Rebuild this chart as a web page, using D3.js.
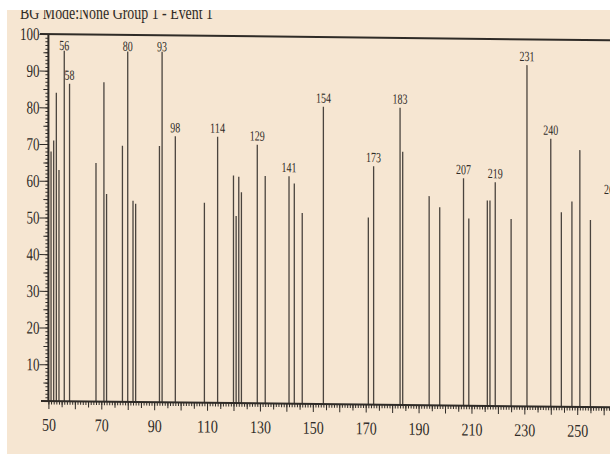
<!DOCTYPE html>
<html>
<head>
<meta charset="utf-8">
<script src="https://cdn.jsdelivr.net/npm/d3@7"></script>
<style>
  html, body { margin: 0; padding: 0; background: #fff; }
  svg { display: block; }
</style>
</head>
<body>
<div id="chart"></div>
<script>
// m/z 值
const mz = [51, 52, 53, 54, 56, 58, 68, 71, 72, 78, 80, 82, 83, 92, 93, 98,
  109, 114, 120, 121, 122, 123, 129, 132, 141, 143, 146, 154, 171, 173,
  183, 184, 194, 198, 207, 209, 216, 217, 219, 225, 231, 240, 244, 248,
  251, 255, 263];
// 相对强度 (%)
const intensity = [68, 71, 84, 63, 95.5, 86.5, 65, 87, 56.6, 69.8, 95.5, 54.8, 54, 69.8, 95.5, 72.5,
  54.5, 72.5, 62, 51, 61.7, 57.5, 70.5, 62, 62, 60, 52, 81, 51, 65,
  81, 69, 57, 54, 62, 51, 56, 56, 61, 51, 93, 73, 53, 56,
  70, 51, 57];
// 标注的峰
const labelled = [56, 58, 80, 93, 98, 114, 129, 141, 154, 173, 183, 207, 219, 231, 240, 263];
// 坐标轴刻度标签
const xTickLabels = [50, 70, 90, 110, 130, 150, 170, 190, 210, 230, 250];
const yTickLabels = [10, 20, 30, 40, 50, 60, 70, 80, 90, 100];
const title = "BG Mode:None  Group 1 - Event 1";

const width = 610;
const height = 455;
const ink = "#2f2b27";
const serif = "'Liberation Serif', 'DejaVu Serif', serif";

const svg = d3.select("#chart")
  .append("svg")
  .attr("width", width)
  .attr("height", height);

// 纸张背景
svg.append("rect")
  .attr("x", 7).attr("y", 10)
  .attr("width", width - 7).attr("height", height - 11)
  .attr("fill", "#f6e6d2");

const x = d3.scaleLinear().domain([50, 262.4]).range([48.4, 610]);
const y = d3.scaleLinear().domain([0, 100]).range([401, 34]);

// 扫描件略微倾斜（右侧偏低）
const g = svg.append("g")
  .attr("transform", `translate(${x(50)},${y(0)}) skewY(0.65) translate(${-x(50)},${-y(0)})`);

// 峰线
g.append("g")
  .attr("stroke", "#4a443e")
  .attr("stroke-width", 1.3)
  .selectAll("line")
  .data(mz)
  .join("line")
  .attr("x1", d => x(d))
  .attr("x2", d => x(d))
  .attr("y1", y(0))
  .attr("y2", (d, i) => y(intensity[i]));

// 峰标注
g.append("g")
  .attr("font-family", serif)
  .attr("font-size", 14)
  .attr("fill", ink)
  .attr("text-anchor", "middle")
  .selectAll("text")
  .data(labelled)
  .join("text")
  .attr("x", d => x(d))
  .attr("y", d => Math.max(y(intensity[mz.indexOf(d)]) - 4, 50))
  .attr("textLength", d => String(d).length * 5)
  .attr("lengthAdjust", "spacingAndGlyphs")
  .text(d => d);

// 顶部框线
g.append("line")
  .attr("x1", 40).attr("x2", 640)
  .attr("y1", y(100)).attr("y2", y(100))
  .attr("stroke", ink).attr("stroke-width", 2);

// X 轴：小刻度、中刻度、主刻度
function addXTicks(values, size) {
  g.append("g")
    .attr("transform", `translate(0,${y(0)})`)
    .call(d3.axisBottom(x).tickValues(values).tickSize(size).tickFormat("").tickSizeOuter(0))
    .call(s => s.select(".domain").remove())
    .call(s => s.selectAll("line").attr("stroke", ink).attr("stroke-width", 1));
}
addXTicks(d3.range(50, 263, 1), 3.5);
addXTicks(d3.range(55, 263, 10), 6);
addXTicks(d3.range(50, 263, 10), 8);

const xLabels = g.append("g")
  .attr("transform", `translate(0,${y(0)})`)
  .call(d3.axisBottom(x).tickValues(xTickLabels).tickSize(0).tickPadding(17).tickSizeOuter(0));
xLabels.select(".domain").remove();
xLabels.selectAll("text")
  .attr("font-family", serif)
  .attr("font-size", 18)
  .attr("fill", ink)
  .attr("textLength", d => String(d).length * 7)
  .attr("lengthAdjust", "spacingAndGlyphs");

g.append("line")
  .attr("x1", 41).attr("x2", 640)
  .attr("y1", y(0)).attr("y2", y(0))
  .attr("stroke", ink).attr("stroke-width", 2);

// Y 轴
function addYTicks(values, size) {
  g.append("g")
    .attr("transform", `translate(${x(50)},0)`)
    .call(d3.axisLeft(y).tickValues(values).tickSize(size).tickFormat("").tickSizeOuter(0))
    .call(s => s.select(".domain").remove())
    .call(s => s.selectAll("line").attr("stroke", ink).attr("stroke-width", 1));
}
addYTicks(d3.range(0, 101, 1), 3);
addYTicks(d3.range(5, 100, 10), 5);
addYTicks(yTickLabels, 9);

const yLabels = g.append("g")
  .attr("transform", `translate(${x(50)},0)`)
  .call(d3.axisLeft(y).tickValues(yTickLabels).tickSize(0).tickPadding(9).tickSizeOuter(0));
yLabels.select(".domain").remove();
yLabels.selectAll("text")
  .attr("font-family", serif)
  .attr("font-size", 18)
  .attr("fill", ink)
  .attr("textLength", d => String(d).length * 6.5)
  .attr("lengthAdjust", "spacingAndGlyphs");

g.append("line")
  .attr("x1", x(50)).attr("x2", x(50))
  .attr("y1", y(100)).attr("y2", y(0))
  .attr("stroke", ink).attr("stroke-width", 2);

// 标题（上半部分被裁切）
svg.append("text")
  .attr("x", 20).attr("y", 19)
  .attr("font-family", serif)
  .attr("font-size", 19)
  .attr("fill", ink)
  .attr("textLength", 193)
  .attr("lengthAdjust", "spacingAndGlyphs")
  .text(title);

svg.append("rect")
  .attr("x", 0).attr("y", 0)
  .attr("width", width).attr("height", 10)
  .attr("fill", "#fff");
svg.append("rect")
  .attr("x", 0).attr("y", 0)
  .attr("width", 7).attr("height", height)
  .attr("fill", "#fff");
</script>
</body>
</html>
